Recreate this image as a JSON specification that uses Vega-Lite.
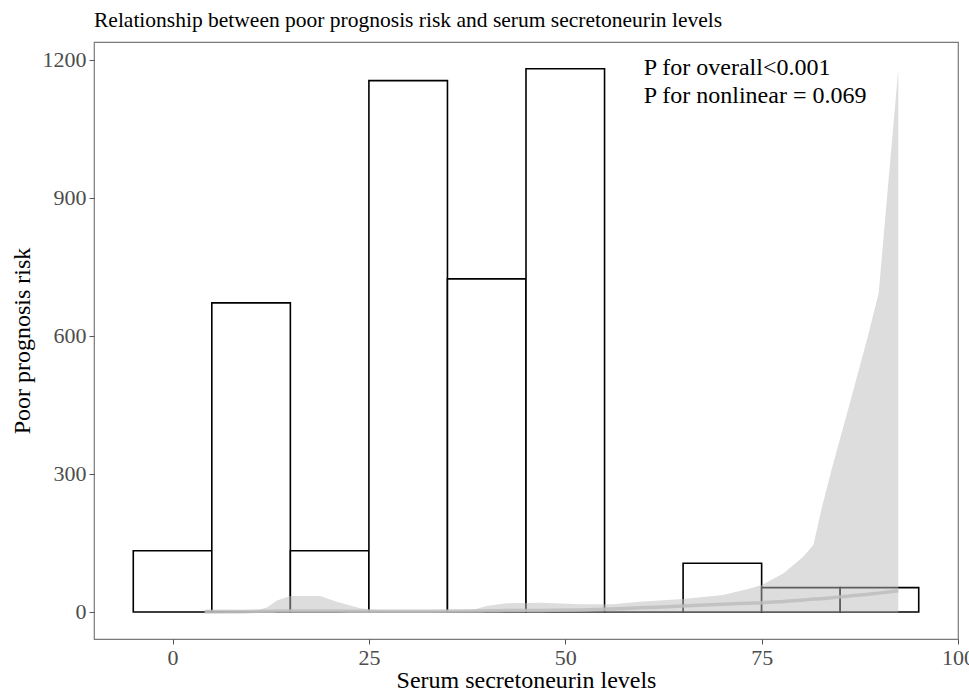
{
  "$schema": "https://vega.github.io/schema/vega-lite/v6.json",
  "width": 864,
  "height": 597,
  "autosize": {"type": "none"},
  "padding": {"left": 94, "top": 42, "right": 11, "bottom": 53},
  "background": "white",
  "title": {
    "text": "Relationship between poor prognosis risk and serum secretoneurin levels",
    "anchor": "start",
    "frame": "group",
    "font": "Liberation Serif",
    "fontSize": 21.5,
    "fontWeight": "normal",
    "color": "#000000",
    "offset": 11
  },
  "datasets": {
    "bins": [
      {"bin_start": -5, "bin_end": 5, "count": 133},
      {"bin_start": 5, "bin_end": 15, "count": 672},
      {"bin_start": 15, "bin_end": 25, "count": 133},
      {"bin_start": 25, "bin_end": 35, "count": 1155},
      {"bin_start": 35, "bin_end": 45, "count": 724},
      {"bin_start": 45, "bin_end": 55, "count": 1181},
      {"bin_start": 55, "bin_end": 65, "count": 0},
      {"bin_start": 65, "bin_end": 75, "count": 106},
      {"bin_start": 75, "bin_end": 85, "count": 53},
      {"bin_start": 85, "bin_end": 95, "count": 53}
    ],
    "curve": [
      {"level": 4.1, "risk": 1, "lower": -4, "upper": 0},
      {"level": 7.5, "risk": 1, "lower": -3, "upper": 1},
      {"level": 10.7, "risk": 1.5, "lower": -2, "upper": 3},
      {"level": 12, "risk": 1.5, "lower": -1, "upper": 10},
      {"level": 13.3, "risk": 2, "lower": -1, "upper": 25},
      {"level": 15, "risk": 2, "lower": -1, "upper": 35},
      {"level": 18.8, "risk": 2, "lower": -1, "upper": 35},
      {"level": 20.9, "risk": 2, "lower": -1, "upper": 22},
      {"level": 23.9, "risk": 1.5, "lower": -1, "upper": 8},
      {"level": 26.4, "risk": 1.5, "lower": -1, "upper": 3},
      {"level": 32, "risk": 1.5, "lower": -1, "upper": 2},
      {"level": 37.9, "risk": 2, "lower": -1, "upper": 3},
      {"level": 40, "risk": 2.5, "lower": -1, "upper": 13},
      {"level": 42.5, "risk": 3, "lower": -1, "upper": 19},
      {"level": 46.8, "risk": 3.5, "lower": -1, "upper": 20},
      {"level": 51.9, "risk": 4.5, "lower": -1, "upper": 17},
      {"level": 56.1, "risk": 6.5, "lower": -1, "upper": 17},
      {"level": 59.5, "risk": 9, "lower": -1, "upper": 22},
      {"level": 65, "risk": 13, "lower": -1, "upper": 28},
      {"level": 70.1, "risk": 17, "lower": -1, "upper": 37},
      {"level": 73.5, "risk": 19, "lower": -1, "upper": 51},
      {"level": 75.1, "risk": 20, "lower": -1, "upper": 59},
      {"level": 77.8, "risk": 23, "lower": -1, "upper": 84},
      {"level": 80.3, "risk": 26, "lower": -1, "upper": 120},
      {"level": 81.6, "risk": 28, "lower": -1, "upper": 146},
      {"level": 82.6, "risk": 29, "lower": -1, "upper": 222},
      {"level": 83.9, "risk": 31, "lower": -1, "upper": 309},
      {"level": 86.2, "risk": 35, "lower": -1, "upper": 452},
      {"level": 88.4, "risk": 38, "lower": -1, "upper": 591},
      {"level": 89.9, "risk": 41, "lower": -1, "upper": 693},
      {"level": 92.4, "risk": 46, "lower": -1, "upper": 1180}
    ]
  },
  "layer": [
    {
      "data": {"name": "bins"},
      "mark": {"type": "rect", "fill": "#ffffff", "stroke": "#000000", "strokeWidth": 1.6},
      "encoding": {
        "x": {"field": "bin_start", "type": "quantitative"},
        "x2": {"field": "bin_end"},
        "y": {"field": "count", "type": "quantitative"},
        "y2": {"datum": 0}
      }
    },
    {
      "data": {"name": "curve"},
      "mark": {"type": "area", "fill": "#bbbbbb", "opacity": 0.5, "interpolate": "linear"},
      "encoding": {
        "x": {"field": "level", "type": "quantitative"},
        "y": {"field": "upper", "type": "quantitative"},
        "y2": {"field": "lower"}
      }
    },
    {
      "data": {"name": "curve"},
      "mark": {"type": "line", "stroke": "#bdbdbd", "strokeWidth": 3.5, "opacity": 0.85, "interpolate": "monotone"},
      "encoding": {
        "x": {"field": "level", "type": "quantitative"},
        "y": {"field": "risk", "type": "quantitative"}
      }
    },
    {
      "data": {"values": [{}]},
      "mark": {
        "type": "text",
        "text": ["P for overall<0.001", "P for nonlinear = 0.069"],
        "font": "Liberation Serif",
        "fontSize": 24,
        "lineHeight": 28,
        "align": "left",
        "baseline": "alphabetic",
        "color": "#000000"
      },
      "encoding": {
        "x": {"datum": 60},
        "y": {"datum": 1167}
      }
    }
  ],
  "encoding": {
    "x": {
      "type": "quantitative",
      "scale": {"domain": [-10, 100], "nice": false, "zero": false},
      "axis": {"title": "Serum secretoneurin levels", "values": [0, 25, 50, 75, 100], "format": "d", "titlePadding": 0}
    },
    "y": {
      "type": "quantitative",
      "scale": {"domain": [-58.7, 1239], "nice": false, "zero": false},
      "axis": {"title": "Poor prognosis risk", "values": [0, 300, 600, 900, 1200], "format": "d", "titlePadding": 8}
    }
  },
  "config": {
    "font": "Liberation Serif",
    "text": {"font": "Liberation Serif"},
    "view": {"stroke": "#7a7a7a", "strokeWidth": 1.2},
    "axis": {
      "grid": false,
      "domain": false,
      "ticks": true,
      "tickColor": "#555555",
      "tickSize": 5,
      "tickWidth": 1,
      "labelFont": "Liberation Serif",
      "labelFontSize": 22,
      "labelColor": "#4d4d4d",
      "labelPadding": 3,
      "labelFlush": false,
      "labelOverlap": false,
      "titleFont": "Liberation Serif",
      "titleFontSize": 24,
      "titleFontWeight": "normal",
      "titleColor": "#000000"
    }
  }
}
